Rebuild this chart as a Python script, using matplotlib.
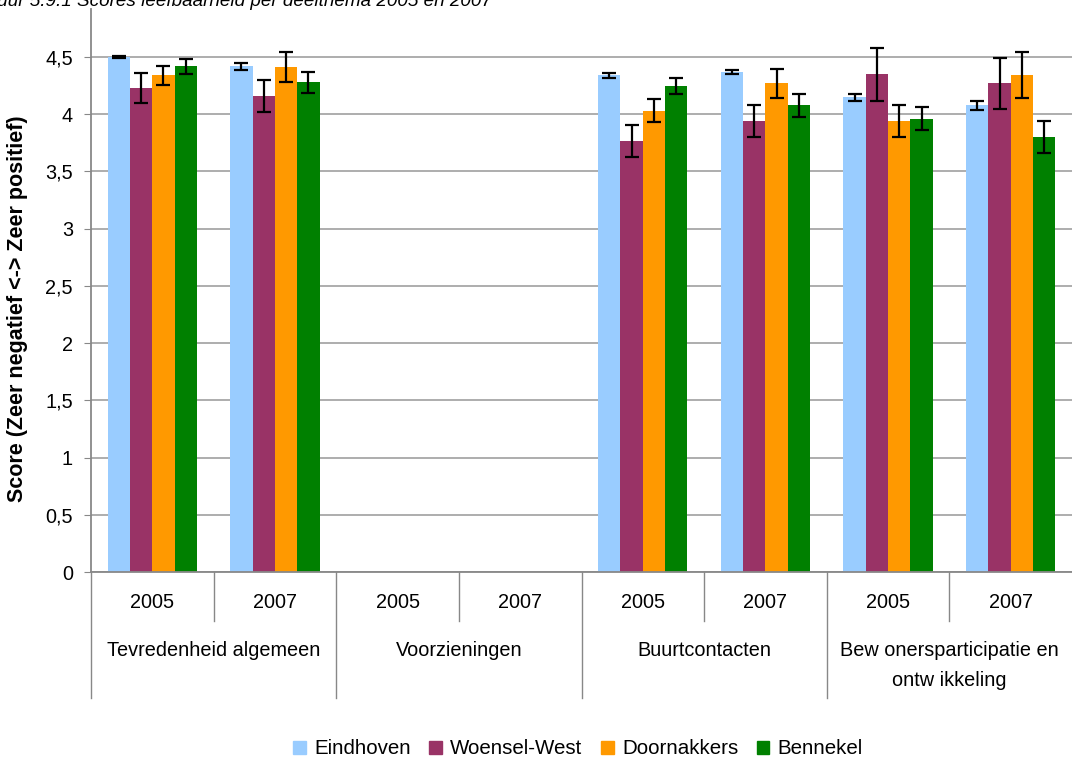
import numpy as np
import matplotlib.pyplot as plt
from matplotlib.ticker import FuncFormatter
from matplotlib.patches import Patch
import matplotlib.transforms as mtransforms

plt.rcParams['font.family'] = ['Liberation Sans', 'DejaVu Sans']

# data
thema = ["Tevredenheid algemeen", "Voorzieningen", "Buurtcontacten",
         "Bew onersparticipatie en\nontw ikkeling"]
jaren = ["2005", "2007"]
reeksen = ["Eindhoven", "Woensel-West", "Doornakkers", "Bennekel"]
kleuren = ["#99CCFF", "#993366", "#FF9900", "#008000"]

nan = np.nan
eindhoven = [4.50, 4.42, nan, nan, 4.34, 4.37, 4.15, 4.08]
eindhoven_err = [0.005, 0.03, nan, nan, 0.02, 0.02, 0.03, 0.04]
woensel = [4.23, 4.16, nan, nan, 3.77, 3.94, 4.35, 4.27]
woensel_err = [0.13, 0.14, nan, nan, 0.14, 0.14, 0.23, 0.22]
doornakkers = [4.34, 4.41, nan, nan, 4.03, 4.27, 3.94, 4.34]
doornakkers_err = [0.08, 0.13, nan, nan, 0.10, 0.13, 0.14, 0.20]
bennekel = [4.42, 4.28, nan, nan, 4.25, 4.08, 3.96, 3.80]
bennekel_err = [0.065, 0.09, nan, nan, 0.07, 0.10, 0.10, 0.14]

waarden = [eindhoven, woensel, doornakkers, bennekel]
fouten = [eindhoven_err, woensel_err, doornakkers_err, bennekel_err]

W, H = 1072, 761
fs = 14.3
fig = plt.figure(figsize=(W / 100, H / 100), dpi=100)
ax = fig.add_axes([91 / W, (H - 572) / H, (W - 91) / W, (572 - 9) / H])

x = np.arange(len(thema) * len(jaren))
bw = 0.182
for i in range(4):
    xs = x + (i - 1.5) * bw
    ax.bar(xs, waarden[i], width=bw, color=kleuren[i], label=reeksen[i], zorder=2)
    ax.errorbar(xs, waarden[i], yerr=fouten[i], fmt='none', ecolor='black',
                elinewidth=1.6, capsize=5, capthick=1.6, zorder=3)

ax.set_xlim(-0.5, 7.5)
ax.set_ylim(0, 4.92)
ax.set_yticks(np.arange(0, 4.6, 0.5))
ax.yaxis.set_major_formatter(FuncFormatter(lambda v, p: f"{v:g}".replace('.', ',')))
ax.grid(axis='y', color='#a0a0a0', linewidth=1.2, zorder=0)
ax.set_axisbelow(True)
for s in ['top', 'right']:
    ax.spines[s].set_visible(False)
for s in ['left', 'bottom']:
    ax.spines[s].set_color('#888888')
    ax.spines[s].set_linewidth(1.3)
ax.tick_params(axis='y', length=5, color='#888888', labelsize=fs, pad=8)
ax.set_xticks([])

ax.set_ylabel("Score (Zeer negatief <-> Zeer positief)", fontsize=15.5,
              fontweight='bold')
ax.yaxis.set_label_coords(-0.064, 0.467)

# labels onder de as, twee niveaus
trans = mtransforms.blended_transform_factory(ax.transData, ax.transAxes)
ah = 572 - 9
for k in range(len(x)):
    ax.text(x[k], -31 / ah, jaren[k % 2], transform=trans, ha='center',
            va='center', fontsize=fs)
for g in range(len(thema)):
    for j, regel in enumerate(thema[g].split("\n")):
        ax.text(2 * g + 0.5, -(79 + 29 * j) / ah, regel, transform=trans,
                ha='center', va='center', fontsize=fs)
    ax.plot([2 * g + 0.5] * 2, [0, -49 / ah], transform=trans, color='#888888',
            lw=1, clip_on=False)
    ax.plot([2 * g - 0.5] * 2, [0, -126 / ah], transform=trans, color='#888888',
            lw=1, clip_on=False)

fig.text(-29 / W, 1 - 6 / H, "Figuur 5.9.1 Scores leefbaarheid per deelthema 2005 en 2007",
         style='italic', fontsize=13.6, va='baseline', ha='left')

handles = [Patch(color=c) for c in kleuren]
fig.legend(handles, reeksen, loc='center', bbox_to_anchor=(578 / W, 1 - 749 / H),
           ncol=4, frameon=False, fontsize=14.8, handlelength=0.62,
           handleheight=0.62, handletextpad=0.4, columnspacing=0.9)

fig.savefig("out.png", dpi=100)
